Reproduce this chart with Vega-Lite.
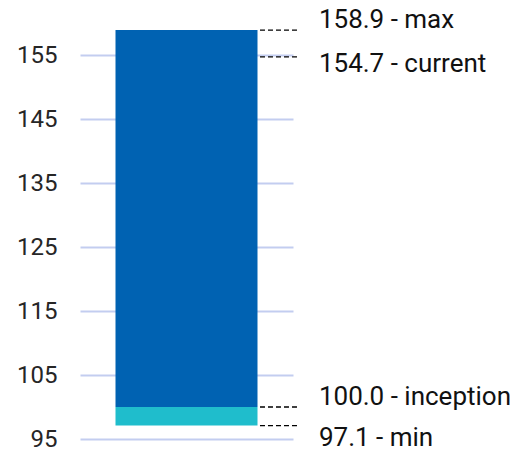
{
  "$schema": "https://vega.github.io/schema/vega-lite/v6.json",
  "width": 213,
  "height": 416,
  "autosize": {"type": "none"},
  "padding": {"left": 80, "top": 23, "right": 224, "bottom": 12},
  "background": "white",
  "config": {"view": {"stroke": null}, "font": "Roboto"},
  "datasets": {
    "segments": [
      {"segment": "below inception", "low": 97.1, "high": 100.0},
      {"segment": "above inception", "low": 100.0, "high": 158.9}
    ],
    "markers": [
      {"name": "max", "value": 158.9, "label": "158.9 - max"},
      {"name": "current", "value": 154.7, "label": "154.7 - current"},
      {"name": "inception", "value": 100.0, "label": "100.0 - inception"},
      {"name": "min", "value": 97.1, "label": "97.1 - min"}
    ]
  },
  "layer": [
    {
      "data": {"name": "segments"},
      "mark": {"type": "bar"},
      "encoding": {
        "x": {"datum": 1, "type": "quantitative", "scale": {"domain": [0, 6]}, "axis": null},
        "x2": {"datum": 5},
        "y": {
          "field": "low",
          "type": "quantitative",
          "scale": {"domain": [95, 160], "nice": false, "zero": false},
          "axis": {
            "values": [95, 105, 115, 125, 135, 145, 155],
            "title": null,
            "domain": false,
            "ticks": false,
            "labelPadding": 23,
            "labelFontSize": 24,
            "labelColor": "#262626",
            "labelFont": "Roboto",
            "gridColor": "#c3cdf0",
            "gridWidth": 2
          }
        },
        "y2": {"field": "high"},
        "color": {
          "field": "segment",
          "type": "nominal",
          "scale": {"domain": ["below inception", "above inception"], "range": ["#1fbdcc", "#0062b2"]},
          "legend": null
        }
      }
    },
    {
      "data": {"name": "markers"},
      "mark": {"type": "rule", "color": "#000000", "strokeWidth": 1.3, "strokeDash": [5, 3], "clip": false},
      "encoding": {
        "x": {"datum": 5.07, "type": "quantitative"},
        "x2": {"datum": 6.14},
        "y": {"field": "value", "type": "quantitative"}
      }
    },
    {
      "data": {"name": "markers"},
      "transform": [{"filter": "datum.name === 'max' || datum.name === 'inception'"}],
      "mark": {"type": "text", "align": "left", "baseline": "alphabetic", "dy": -2, "fontSize": 26, "font": "Roboto", "color": "#111111", "clip": false},
      "encoding": {
        "x": {"datum": 6.73, "type": "quantitative"},
        "y": {"field": "value", "type": "quantitative"},
        "text": {"field": "label"}
      }
    },
    {
      "data": {"name": "markers"},
      "transform": [{"filter": "datum.name === 'current'"}],
      "mark": {"type": "text", "align": "left", "baseline": "alphabetic", "dy": 15, "fontSize": 26, "font": "Roboto", "color": "#111111", "clip": false},
      "encoding": {
        "x": {"datum": 6.73, "type": "quantitative"},
        "y": {"field": "value", "type": "quantitative"},
        "text": {"field": "label"}
      }
    },
    {
      "data": {"name": "markers"},
      "transform": [{"filter": "datum.name === 'min'"}],
      "mark": {"type": "text", "align": "left", "baseline": "alphabetic", "dy": 20, "fontSize": 26, "font": "Roboto", "color": "#111111", "clip": false},
      "encoding": {
        "x": {"datum": 6.73, "type": "quantitative"},
        "y": {"field": "value", "type": "quantitative"},
        "text": {"field": "label"}
      }
    }
  ]
}
